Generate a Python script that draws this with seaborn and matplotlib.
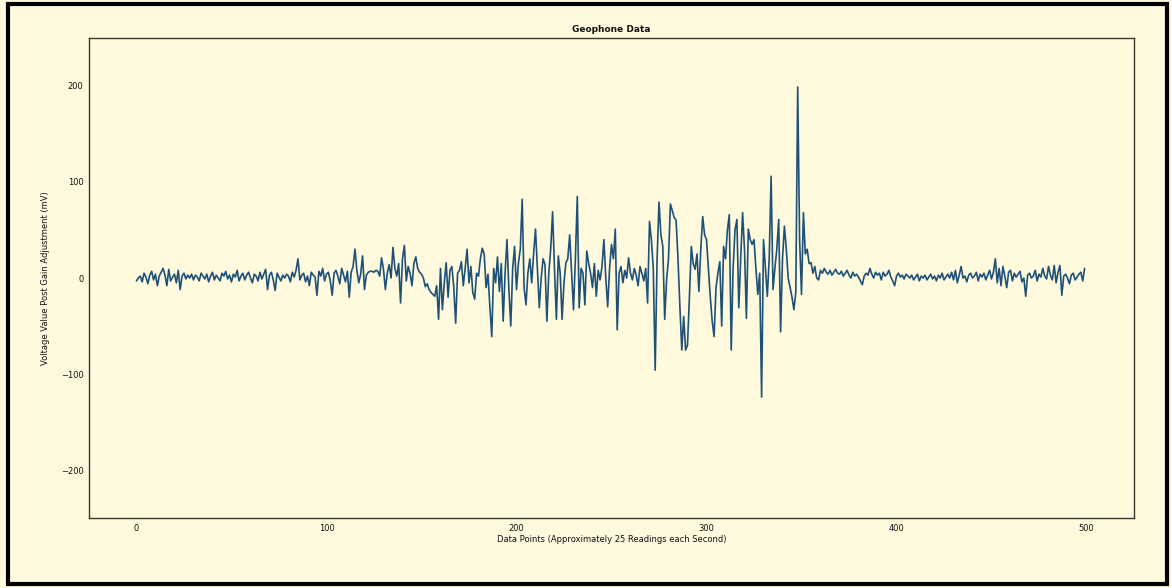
import numpy as np
import pandas as pd
import matplotlib
matplotlib.use("Agg")
import matplotlib.pyplot as plt
import seaborn as sns

# Geophone readings (mV), split by part of the record
quiet_start = [
    -3, 0, 2, -4, 5, 1, -6, 3, 7, -2,
    4, -8, 2, 6, 10, 3, -8, 9, -3, 1,
    4, -5, 8, -12, 2, 5, -1, 3, 0, 4,
    -2, 3, 1, -3, 5, 2, -1, 4, -4, 2,
    6, -2, 3, 0, -3, 5, 2, 7, -1, 3,
    -4, 4, 1, 8, -3, 2, 5, -2, 3, 6,
    0, -5, 4, 2, -3, 6, -1, 4, 9, -12,
    3, 6, -2, -13, 5, 1, -3, 3, 0, 4,
    2, -4, 6, 1, 8, 20, -2, 3, 5, -4,
    2, -8, 6, 3, 1, -18, 7, 2, 10, -3,
]
build_up = [
    4, 6, -3, -18, 5, 8, 2, -6, 10, 3,
    -4, 7, -20, 6, 12, 30, 8, -5, 4, 23,
    -12, 3, 6, 7, 7, 6, 8, 7, 2, 21,
    9, -12, 5, 14, 0, 32, 10, 2, 15, -26,
    20, 34, -3, 12, 5, -8, 15, 22, 10, 6,
    4, 0, -9, -6, -12, -15, -17, -19, -8, -43,
    10, -33, -5, 16, -20, 8, 12, -10, -47, 5,
    8, 17, -8, 10, 30, -5, 12, -15, -22, 5,
    2, 20, 31, 25, -10, 4, -30, -61, 10, -5,
    22, -14, 15, -45, 5, 40, -12, -50, 10, 33,
]
strong_motion = [
    -12, 15, 30, 82, -10, -28, 5, 20, -5, 25,
    51, 10, -31, 0, 20, 14, -45, 5, 30, 69,
    10, -43, 23, 5, -43, -5, 16, 20, 45, 5,
    -33, 20, 85, -31, 10, 5, -28, 28, 15, 5,
    -10, 15, -19, 8, -2, 12, 40, 0, -30, 10,
    35, 20, 51, -54, 5, 12, -5, 8, 0, 21,
    5, -2, 10, 3, -8, 12, 5, -3, 10, -26,
    59, 40, 10, -96, 20, 79, 45, 33, -43, -2,
    20, 77, 70, 63, 60, 20, -30, -75, -40, -75,
    -70, -20, 33, 15, 9, 25, -14, 30, 64, 45,
    40, 10, -20, -45, -61, -10, 5, 17, -50, 33,
    20, 50, 66, -75, 10, 50, 61, -31, 20, 68,
    30, -42, 51, 40, 35, 40, 10, -17, 5, -124,
    40, 10, -19, 20, 106, -12, 10, 30, 61, -56,
    20, 54, 30, 0, -10, -20, -33, -15, 199, 40,
    -17, 68, 25, 30, 15, 16, 5, 12, 0, -2,
]
quiet_end = [
    8, 5, 10, 6, 4, 8, 3, 6, 9, 5,
    4, 7, 2, 5, 8, 3, 0, 6, 2, 4,
    1, -3, -7, 2, 5, 3, 10, 4, 0, 6,
    3, 5, -2, 6, 2, 4, 8, 1, -3, -8,
    2, 5, 1, 3, -1, 4, 2, 0, 3, -2,
    1, 4, -3, 2, 0, 3, -2, 1, 4, -1,
    2, -3, 3, 0, 5, -2, 1, 4, 0, 6,
    -2, 8, -5, 3, 12, 0, 2, -4, 3, 5,
    0, 2, 6, -3, 4, 1, 5, -2, 3, 8,
    -1, 6, 20, -5, 10, -8, 12, 2, -10, 6,
    8, -3, 5, 1, 4, 7, -4, 0, -19, 3,
    5, 0, 2, 8, -3, 4, 1, 10, 2, -1,
    12, 3, -2, 13, -5, 6, 13, -18, 2, 4,
    0, -6, 3, 5, -2, 1, 4, 6, -3, 10,
]
x_ticks = [0, 100, 200, 300, 400, 500]
y_ticks = [-200, -100, 0, 100, 200]

voltage = quiet_start + build_up + strong_motion + quiet_end
df = pd.DataFrame({"point": np.arange(len(voltage)), "mv": voltage})

bg = "#fffadd"
sns.set_style("white", {"axes.facecolor": bg, "figure.facecolor": bg,
                        "axes.edgecolor": "#3a382c"})
plt.rcParams["font.family"] = ["DejaVu Sans"]

fig = plt.figure(figsize=(11.72, 5.88), dpi=100)
ax = fig.add_axes([0.0759, 0.119, 0.8917, 0.8164])

sns.lineplot(data=df, x="point", y="mv", color="#1f5178", linewidth=1.2, ax=ax)

ax.set_xlim(-25, 525)
ax.set_ylim(-250, 250)
ax.set_xticks(x_ticks)
ax.set_yticks(y_ticks)
ax.tick_params(labelsize=6, length=2, width=0.6, colors="#111111", pad=2)
for s in ax.spines.values():
    s.set_linewidth(1.0)

ax.set_title("Geophone Data", fontsize=6.5, fontweight="semibold", color="#111111", pad=4)
ax.set_xlabel("Data Points (Approximately 25 Readings each Second)", fontsize=6,
              color="#111111", labelpad=2)
ax.set_ylabel("Voltage Value Post Gain Adjustment (mV)", fontsize=6,
              color="#111111", labelpad=8)

# black frame round the whole picture
fig.add_artist(plt.Rectangle((0.007, 0.006), 0.989, 0.988, transform=fig.transFigure,
                             fill=False, edgecolor="black", linewidth=3))

fig.savefig("out.png", dpi=100, facecolor=bg)
